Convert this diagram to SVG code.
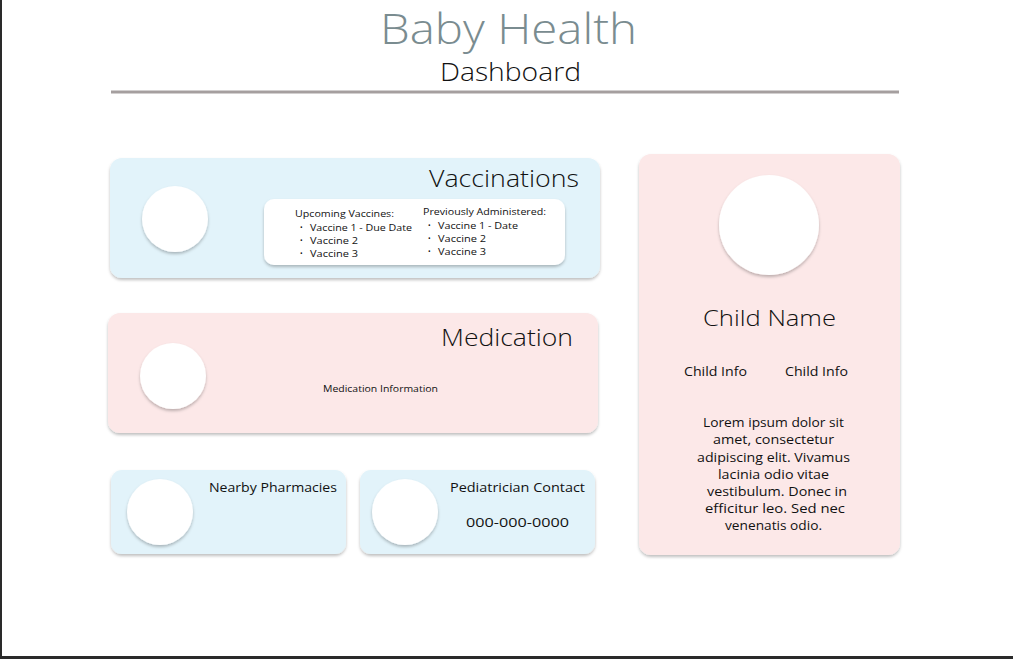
<svg xmlns="http://www.w3.org/2000/svg" width="1013" height="659" viewBox="0 0 1013 659">
<defs>
<filter id="sh" x="-10%" y="-10%" width="120%" height="130%">
<feDropShadow dx="0" dy="2" stdDeviation="1.5" flood-color="#000" flood-opacity="0.25"/>
</filter>
<style>
.t{font-family:"Open Sans","Noto Sans",sans-serif;fill:#111}
.blue{fill:#e2f3fa}
.pink{fill:#fce8e8}
.av{fill:#fff;filter:url(#sh)}
.card{filter:url(#sh)}
.s10{font-size:9.5px}
.b{font-size:7px}
.s13{font-size:13px}
.h{font-size:24px;font-weight:300}
</style>
</defs>
<rect x="0" y="0" width="1013" height="659" fill="#fff"/>
<rect x="0" y="0" width="2" height="659" fill="#2a2a2a"/>
<rect x="0" y="656" width="1013" height="3" fill="#2a2a2a"/>
<g id="header">
<text class="t" x="380" y="44" font-size="43" font-weight="300" textLength="257" lengthAdjust="spacingAndGlyphs" style="fill:#7a8c90">Baby Health</text>
<text class="t" x="440" y="81" font-size="25" font-weight="300" textLength="141" lengthAdjust="spacingAndGlyphs">Dashboard</text>
<rect x="111" y="90.5" width="788" height="3" fill="#a59f9f"/>
</g>
<g id="vaccinations">
<rect class="blue card" x="110" y="158" width="490" height="120" rx="12"/>
<circle class="av" cx="175" cy="219" r="33"/>
<text class="t h" x="429" y="187" textLength="150" lengthAdjust="spacingAndGlyphs">Vaccinations</text>
<rect x="264" y="199" width="301" height="66" rx="10" fill="#fff" filter="url(#sh)"/>
<text class="t s10" x="295" y="217" textLength="99" lengthAdjust="spacingAndGlyphs">Upcoming Vaccines:</text>
<text class="t b" x="300" y="230">•</text>
<text class="t b" x="300" y="243">•</text>
<text class="t b" x="300" y="256">•</text>
<text class="t s10" x="310" y="231" textLength="102" lengthAdjust="spacingAndGlyphs">Vaccine 1 - Due Date</text>
<text class="t s10" x="310" y="244" textLength="48" lengthAdjust="spacingAndGlyphs">Vaccine 2</text>
<text class="t s10" x="310" y="257" textLength="48" lengthAdjust="spacingAndGlyphs">Vaccine 3</text>
<text class="t s10" x="423" y="215" textLength="123" lengthAdjust="spacingAndGlyphs">Previously Administered:</text>
<text class="t b" x="428" y="228">•</text>
<text class="t b" x="428" y="241">•</text>
<text class="t b" x="428" y="254">•</text>
<text class="t s10" x="438" y="229" textLength="80" lengthAdjust="spacingAndGlyphs">Vaccine 1 - Date</text>
<text class="t s10" x="438" y="242" textLength="48" lengthAdjust="spacingAndGlyphs">Vaccine 2</text>
<text class="t s10" x="438" y="255" textLength="48" lengthAdjust="spacingAndGlyphs">Vaccine 3</text>
</g>
<g id="medication">
<rect class="pink card" x="108" y="313" width="490" height="120" rx="12"/>
<circle class="av" cx="173" cy="376" r="33"/>
<text class="t h" x="441" y="346" textLength="132" lengthAdjust="spacingAndGlyphs">Medication</text>
<text class="t s10" x="323" y="392" textLength="115" lengthAdjust="spacingAndGlyphs">Medication Information</text>
</g>
<g id="pharmacies">
<rect class="blue card" x="111" y="470" width="235" height="84" rx="11"/>
<circle class="av" cx="160" cy="512" r="33"/>
<text class="t s13" x="209" y="492" textLength="128" lengthAdjust="spacingAndGlyphs">Nearby Pharmacies</text>
</g>
<g id="pediatrician">
<rect class="blue card" x="360" y="470" width="235" height="84" rx="11"/>
<circle class="av" cx="405" cy="512" r="33"/>
<text class="t s13" x="450" y="492" textLength="135" lengthAdjust="spacingAndGlyphs">Pediatrician Contact</text>
<text class="t s13" x="466" y="527" textLength="103" lengthAdjust="spacingAndGlyphs">000-000-0000</text>
</g>
<g id="child">
<rect class="pink card" x="639" y="154" width="261" height="401" rx="12"/>
<circle class="av" cx="769" cy="225" r="50"/>
<text class="t" x="703" y="326" font-size="22" font-weight="300" textLength="133" lengthAdjust="spacingAndGlyphs">Child Name</text>
<text class="t s13" x="684" y="376" textLength="63" lengthAdjust="spacingAndGlyphs">Child Info</text>
<text class="t s13" x="785" y="376" textLength="63" lengthAdjust="spacingAndGlyphs">Child Info</text>
<g class="t s13">
<text x="703" y="427" textLength="141" lengthAdjust="spacingAndGlyphs">Lorem ipsum dolor sit</text>
<text x="713" y="444" textLength="121" lengthAdjust="spacingAndGlyphs">amet, consectetur</text>
<text x="697" y="462" textLength="153" lengthAdjust="spacingAndGlyphs">adipiscing elit. Vivamus</text>
<text x="718" y="479" textLength="111" lengthAdjust="spacingAndGlyphs">lacinia odio vitae</text>
<text x="707" y="496" textLength="140" lengthAdjust="spacingAndGlyphs">vestibulum. Donec in</text>
<text x="705" y="513" textLength="140" lengthAdjust="spacingAndGlyphs">efficitur leo. Sed nec</text>
<text x="725" y="530" textLength="97" lengthAdjust="spacingAndGlyphs">venenatis odio.</text>
</g>
</g>
<g id="connectors"/>
</svg>
